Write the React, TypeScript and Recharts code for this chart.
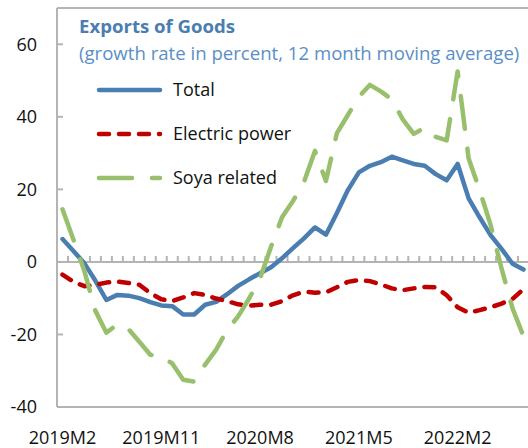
import React from 'react';
import { LineChart, Line, XAxis, YAxis, ReferenceLine } from 'recharts';

const categories = [
  '2019M2', '2019M3', '2019M4', '2019M5', '2019M6', '2019M7', '2019M8', '2019M9', '2019M10', '2019M11', '2019M12',
  '2020M1', '2020M2', '2020M3', '2020M4', '2020M5', '2020M6', '2020M7', '2020M8', '2020M9', '2020M10', '2020M11', '2020M12',
  '2021M1', '2021M2', '2021M3', '2021M4', '2021M5', '2021M6', '2021M7', '2021M8', '2021M9', '2021M10', '2021M11', '2021M12',
  '2022M1', '2022M2', '2022M3', '2022M4', '2022M5', '2022M6', '2022M7', '2022M8',
];

const total = [6.3, 3.0, -0.4, -5.2, -10.5, -9.1, -9.3, -10.0, -11.1, -12.0, -12.2, -14.5, -14.5, -11.8, -11.0, -8.9, -6.6, -4.8, -3.1, -1.5, 1.0, 3.8, 6.5, 9.5, 7.5, 13.5, 19.8, 24.7, 26.5, 27.5, 29.0, 28.0, 27.0, 26.5, 24.2, 22.5, 27.0, 17.5, 12.3, 7.4, 3.6, -0.5, -2.1];
const electricPower = [-3.5, -5.5, -6.7, -6.3, -5.7, -5.4, -5.8, -6.3, -8.6, -10.3, -10.8, -9.8, -8.6, -9.1, -10.1, -10.8, -11.7, -12.1, -11.8, -11.8, -10.8, -9.2, -8.2, -8.5, -8.4, -7.0, -5.5, -5.0, -5.3, -6.2, -7.3, -7.8, -7.3, -6.9, -7.0, -9.2, -12.5, -14.0, -13.3, -12.5, -11.5, -10.2, -7.5];
const soyaRelated = [14.5, 6.1, -2.6, -13.5, -19.5, -17.2, -18.5, -22.0, -25.6, -26.0, -28.0, -32.5, -33.0, -28.3, -24.2, -18.8, -15.0, -10.1, -4.5, 4.2, 12.3, 16.8, 22.0, 30.6, 22.3, 35.5, 40.5, 45.5, 48.8, 47.0, 44.8, 39.3, 35.3, 37.0, 34.5, 33.5, 52.5, 28.5, 19.8, 10.2, -1.8, -12.8, -20.5];

const yTicks = [-40, -20, 0, 20, 40, 60];
const yDomain = [-40, 70];
const titleText = 'Exports of Goods';
const subtitleText = '(growth rate in percent, 12 month moving average)';

const FONT = '"Open Sans", "Noto Sans", sans-serif';
const AXIS = '#b4b4b4';
const BLUE = '#4a7eb0';
const RED = '#c00000';
const GREEN = '#98bf6c';

const series = [
  { key: 'total', name: 'Total', color: BLUE, width: 4.5, dash: undefined as string | undefined },
  { key: 'electric', name: 'Electric power', color: RED, width: 4.5, dash: '10 10' },
  { key: 'soya', name: 'Soya related', color: GREEN, width: 4.5, dash: '33 20' },
];

const data = categories.map((m, i) => ({
  month: m,
  total: total[i],
  electric: electricPower[i],
  soya: soyaRelated[i],
}));

const CHART_W = 530;
const CHART_H = 448;
const Y_AXIS_W = 57;
const MARGIN_RIGHT = 1;
const PLOT_W = CHART_W - Y_AXIS_W - MARGIN_RIGHT;
const HALF_BAND = PLOT_W / categories.length / 2;

const YTick = (props: any) => {
  const { x, y, payload } = props;
  return (
    <g>
      <line x1={x + 20} x2={x + 26} y1={y} y2={y} stroke={AXIS} strokeWidth={2} />
      <text x={x} y={y} dy="0.36em" textAnchor="end" fontSize={18} fill="#111" fontFamily={FONT}>
        {payload.value}
      </text>
    </g>
  );
};

const ZeroAxis = (props: any) => {
  const { x1, x2, y1 } = props;
  const n = categories.length;
  const step = (x2 - x1) / n;
  const marks = [];
  for (let i = 1; i < n; i++) {
    const xx = x1 + i * step;
    marks.push(<line key={i} x1={xx} x2={xx} y1={y1} y2={y1 - 6} stroke={AXIS} strokeWidth={2} />);
  }
  return (
    <g>
      <line x1={x1} x2={x2} y1={y1} y2={y1} stroke={AXIS} strokeWidth={2} />
      {marks}
    </g>
  );
};

export default function App() {
  return (
    <div style={{ position: 'absolute', left: 0, top: 0, width: 528, height: 448, overflow: 'hidden', background: '#fff' }}>
      <LineChart width={CHART_W} height={CHART_H} data={data} margin={{ top: 8, right: MARGIN_RIGHT, bottom: 0, left: 0 }}>
        <XAxis
          dataKey="month"
          scale="point"
          padding={{ left: HALF_BAND, right: HALF_BAND }}
          interval={8}
          tickLine={false}
          tickSize={0}
          tickMargin={24}
          height={41}
          axisLine={{ stroke: AXIS, strokeWidth: 2 }}
          tick={{ fontSize: 18, fill: '#111', fontFamily: FONT }}
        />
        <YAxis
          width={Y_AXIS_W}
          domain={yDomain}
          ticks={yTicks}
          type="number"
          allowDataOverflow
          tickLine={false}
          tickSize={0}
          tickMargin={20}
          axisLine={{ stroke: AXIS, strokeWidth: 2 }}
          tick={YTick}
        />
        <ReferenceLine y={70} stroke={AXIS} strokeWidth={2} />
        <ReferenceLine y={0} shape={ZeroAxis} />
        {series.map((s) => (
          <Line
            key={s.key}
            type="linear"
            dataKey={s.key}
            name={s.name}
            stroke={s.color}
            strokeWidth={s.width}
            strokeDasharray={s.dash}
            strokeLinecap="round"
            strokeLinejoin="round"
            dot={false}
            activeDot={false}
            isAnimationActive={false}
          />
        ))}
      </LineChart>
      <svg width={528} height={200} style={{ position: 'absolute', left: 0, top: 0, pointerEvents: 'none' }}>
        <text x={79} y={33} fontSize={18.6} fontWeight="bold" fill={BLUE} fontFamily={FONT}>{titleText}</text>
        <text x={79} y={60} fontSize={18.6} fill="#5a8fc6" fontFamily={FONT}>{subtitleText}</text>
        {series.map((s, i) => {
          const y = 90 + i * 44;
          return (
            <g key={s.key}>
              <line x1={99} x2={160} y1={y} y2={y} stroke={s.color} strokeWidth={s.width} strokeDasharray={s.dash} strokeLinecap="round" />
              <text x={173} y={y} dy="0.36em" fontSize={18} fill="#111" fontFamily={FONT}>{s.name}</text>
            </g>
          );
        })}
      </svg>
    </div>
  );
}
